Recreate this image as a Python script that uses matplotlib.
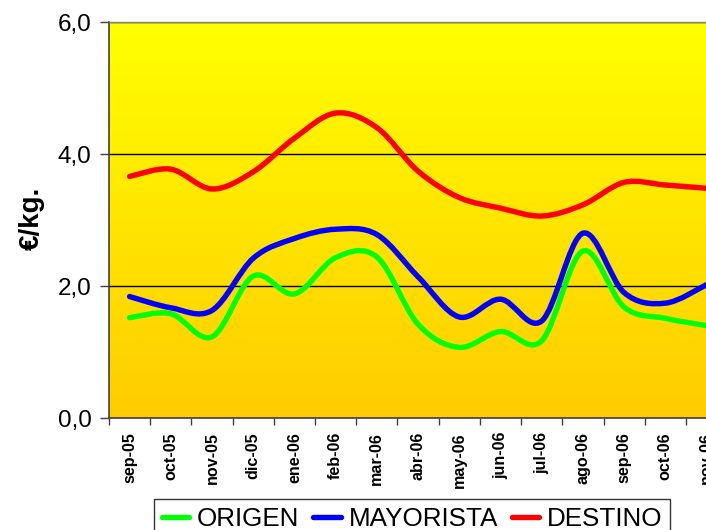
import numpy as np
import matplotlib
matplotlib.use("Agg")
import matplotlib.pyplot as plt
from matplotlib.path import Path
from matplotlib.patches import PathPatch
from matplotlib.lines import Line2D
from matplotlib.ticker import FixedLocator, FuncFormatter

plt.rcParams['font.family'] = ['Liberation Sans', 'DejaVu Sans']

months = ['sep-05', 'oct-05', 'nov-05', 'dic-05', 'ene-06', 'feb-06', 'mar-06',
          'abr-06', 'may-06', 'jun-06', 'jul-06', 'ago-06', 'sep-06', 'oct-06', 'nov-06']
origen = [1.52, 1.58, 1.23, 2.15, 1.88, 2.43, 2.44, 1.42, 1.07, 1.31, 1.17, 2.53, 1.68, 1.51, 1.40]
mayorista = [1.84, 1.67, 1.63, 2.42, 2.72, 2.86, 2.78, 2.14, 1.53, 1.80, 1.47, 2.80, 1.90, 1.74, 2.02]
destino = [3.66, 3.77, 3.47, 3.73, 4.24, 4.62, 4.40, 3.74, 3.34, 3.18, 3.06, 3.23, 3.57, 3.53, 3.48]
series_names = ['ORIGEN', 'MAYORISTA', 'DESTINO']
series_colors = ['#00FF00', '#0000FF', '#FF0000']
y_ticks = [0, 2, 4, 6]


def smooth_path(xs, ys):
    """Smoothed polyline as cubic Bezier segments (Catmull-Rom style)."""
    pts = np.column_stack([xs, ys]).astype(float)
    n = len(pts)
    verts = [pts[0]]
    codes = [Path.MOVETO]
    for i in range(n - 1):
        p0 = pts[i - 1] if i > 0 else pts[i]
        p1 = pts[i]
        p2 = pts[i + 1]
        p3 = pts[i + 2] if i + 2 < n else pts[i + 1]
        c1 = p1 + (p2 - p0) / 6.0
        c2 = p2 - (p3 - p1) / 6.0
        verts += [c1, c2, p2]
        codes += [Path.CURVE4] * 3
    return Path(verts, codes)


W, H = 706, 530
fig = plt.figure(figsize=(W / 100, H / 100), dpi=100)
fig.patch.set_facecolor('white')

n = len(months)
cat_w = 41.21
ax_w = n * cat_w
ax = fig.add_axes([109 / W, 1 - 418 / H, ax_w / W, 396 / H])
ax.set_xlim(-0.5, n - 0.5)
ax.set_ylim(0, 6)

# vertical yellow-to-orange background
grad = np.linspace(1, 0, 256).reshape(-1, 1)
top = np.array([1.0, 1.0, 0.0])
bot = np.array([1.0, 0.80, 0.0])
img = (bot + (top - bot) * grad[..., None]).reshape(256, 1, 3)
ax.imshow(img, extent=[0, 1, 0, 1], transform=ax.transAxes, aspect='auto',
          zorder=0, interpolation='bilinear')

ax.set_axisbelow(True)
ax.yaxis.set_major_locator(FixedLocator(y_ticks))
ax.yaxis.set_major_formatter(FuncFormatter(lambda v, p: f"{v:.1f}".replace('.', ',')))
ax.grid(axis='y', color='black', linewidth=1.0)
ax.grid(axis='x', visible=False)

x = np.arange(n)
for vals, col in zip([origen, mayorista, destino], series_colors):
    patch = PathPatch(smooth_path(x, vals), facecolor='none', edgecolor=col,
                      linewidth=3.9, capstyle='round', joinstyle='round', zorder=3)
    ax.add_patch(patch)

# category ticks sit on the boundaries, labels in the middle
ax.set_xticks(np.arange(n + 1) - 0.5, minor=False)
ax.set_xticklabels([])
ax.set_xticks(x, minor=True)
ax.set_xticklabels(months, minor=True, rotation=90, fontsize=11.6,
                   fontweight='bold', va='top', ha='center')
ax.tick_params(axis='x', which='major', direction='out', length=5, width=1, color='#404040')
ax.tick_params(axis='x', which='minor', length=0, pad=10)
ax.tick_params(axis='y', direction='out', length=6.5, width=1, color='#404040',
               labelsize=17.5, pad=6)

for s in ['left', 'bottom']:
    ax.spines[s].set_color('#404040')
    ax.spines[s].set_linewidth(1.2)
ax.spines['top'].set_color('#808080')
ax.spines['top'].set_linewidth(1.0)
ax.spines['right'].set_visible(False)

ax.set_ylabel('€/kg.', fontsize=20, fontweight='bold', va='center')
ax.yaxis.set_label_coords((32 - 109) / ax_w, 0.5 + 2 / 396)

handles = [Line2D([0], [0], color=c, lw=3.9, solid_capstyle='round') for c in series_colors]
leg = fig.legend(handles, series_names, loc='upper left',
                 bbox_to_anchor=(154 / W, 1 - 499 / H), ncol=3, fontsize=18.7,
                 frameon=True, fancybox=False, handlelength=1.06, handletextpad=0.3,
                 columnspacing=0.53, borderpad=0.3, borderaxespad=0)
leg.get_frame().set_edgecolor('black')
leg.get_frame().set_linewidth(1.0)

fig.savefig('out.png', dpi=100)
